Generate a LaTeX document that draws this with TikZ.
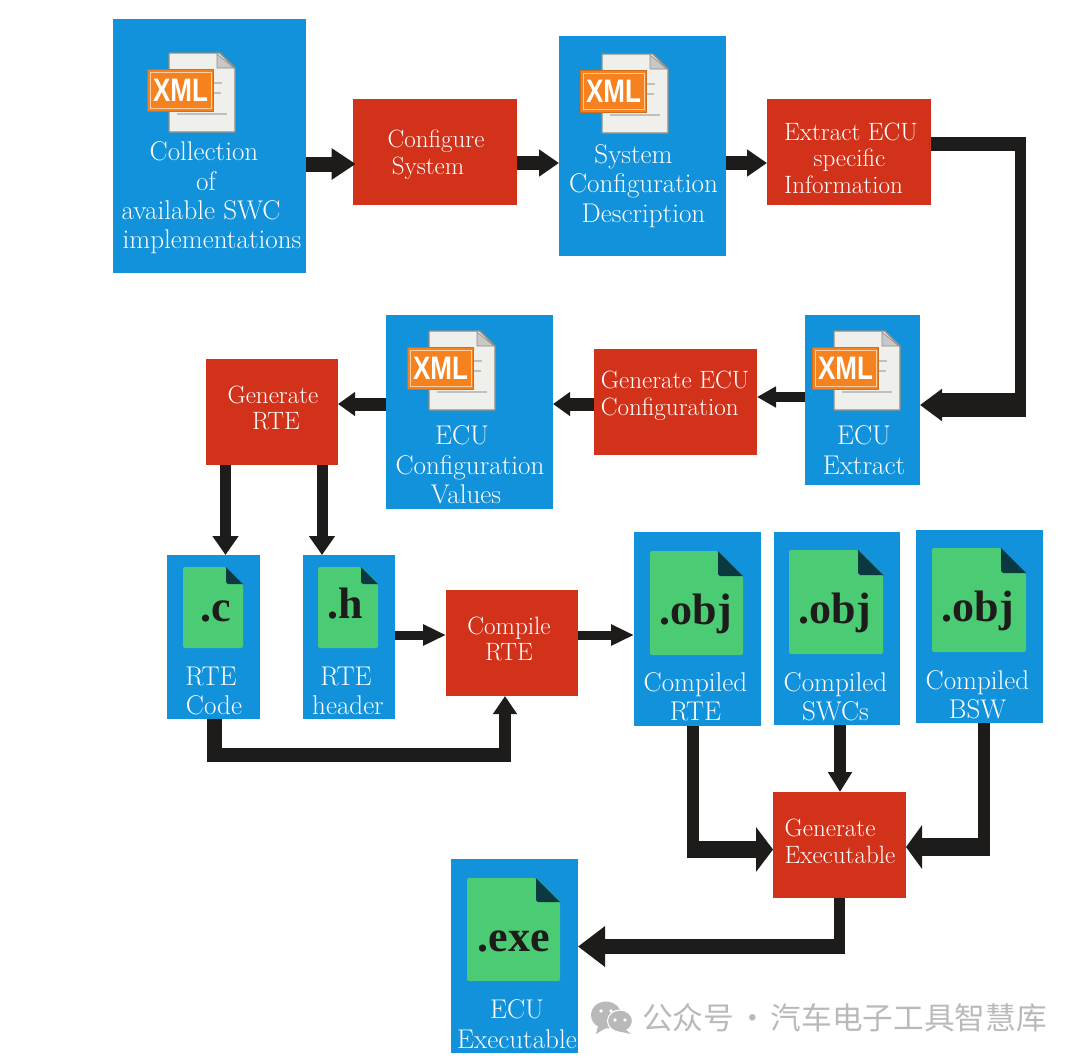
\documentclass[tikz,border=0pt]{standalone}
\usepackage{fontspec}
\usepackage{graphicx}
\usetikzlibrary{arrows.meta,calc}
\newfontfamily\xmlfont{Liberation Sans}
\newfontfamily\filefont{Liberation Serif}
\newfontfamily\cjkfont{Noto Sans CJK SC}
\definecolor{bluebox}{HTML}{1192DB}
\definecolor{redbox}{HTML}{D3321A}
\definecolor{greenfile}{HTML}{4ACB74}
\definecolor{foldfile}{HTML}{0A3A40}
\definecolor{ink}{HTML}{1E1C1A}
\definecolor{xmlorange}{HTML}{F5821F}
\definecolor{xmlpage}{HTML}{EFEFEC}
\definecolor{xmledge}{HTML}{8E8E88}
\definecolor{wmark}{HTML}{B9B9B9}
\tikzset{
  x=0.75pt,y=-0.75pt,
  cell/.style={inner sep=0pt,outer sep=0pt,draw=none},
  bluecell/.style={cell,fill=bluebox},
  redcell/.style={cell,fill=redbox},
  bluetext/.style={text=white,align=center,inner sep=0pt,font=\fontsize{20.3}{22}\selectfont},
  redtext/.style={text=white,align=center,inner sep=0pt,font=\fontsize{18.8}{20}\selectfont},
  filetext/.style={text=ink,inner sep=0pt,anchor=base,font=\filefont\bfseries\fontsize{33}{34}\selectfont},
  conn/.style n args={3}{draw=ink,line width=#1*0.75pt,-{Triangle[length=#2*0.75pt,width=#3*0.75pt]}},
  bar/.style={draw=ink,line width=#1*0.75pt}
}
\newcommand\xmlicon[3]{%
\begin{scope}[shift={(#2,#3)}]
  \draw[xmledge,fill=xmlpage,line width=1.1pt,line join=round] (22,-16) -- (73,-16) -- (88,-1) -- (88,63) -- (22,63) -- cycle;
  \draw[xmledge,fill=black!22,line width=.5pt] (70,-15) -- (70,-1) -- (87,-1) -- cycle;
  \foreach \yy/\xx in {14/75,24/74,45/80}{\draw[black!25,line width=1.5pt] (67,\yy) -- (\xx,\yy);}
  \draw[black!25,line width=1.5pt] (30,45) -- (67,45);
  \node[cell,fill=xmlorange,anchor=north west,minimum width=50.2pt,minimum height=31.5pt,draw=xmlorange!85!black,line width=.7pt] (#1) at (0,0) {};
  \draw[white!60!xmlorange,line width=.35pt] (3,3) rectangle (64,39);
  \node[text=white,inner sep=0pt] at (33.5,21) {\scalebox{1}[1.25]{\xmlfont\bfseries\fontsize{19.5}{20}\selectfont XML}};
\end{scope}}
\newcommand\fileicon[6]{% name x1 y1 x2 y2 fold
\fill[greenfile,rounded corners=1.5pt] (#2,#3) -- (#4-#6,#3) -- (#4,#3+#6) -- (#4,#5) -- (#2,#5) -- cycle;
\fill[foldfile] (#4-#6,#3) -- (#4,#3+#6) -- (#4-#6+2,#3+#6) -- (#4-#6,#3+#6-2) -- cycle;
\coordinate (#1) at (#2,#3);}
\begin{document}
\begin{tikzpicture}
\useasboundingbox (0,0) rectangle (1080,1061);
% cells
\node[bluecell,anchor=north west,minimum width=193*0.75pt,minimum height=254*0.75pt] (coll) at (113,19) {};
\node[redcell,anchor=north west,minimum width=164*0.75pt,minimum height=106*0.75pt] (cfgsys) at (353,99) {};
\node[bluecell,anchor=north west,minimum width=167*0.75pt,minimum height=220*0.75pt] (sysdesc) at (559,36) {};
\node[redcell,anchor=north west,minimum width=164*0.75pt,minimum height=106*0.75pt] (extract) at (767,99) {};
\node[bluecell,anchor=north west,minimum width=115*0.75pt,minimum height=170*0.75pt] (ecuext) at (805,315) {};
\node[redcell,anchor=north west,minimum width=163*0.75pt,minimum height=106*0.75pt] (gencfg) at (594,349) {};
\node[bluecell,anchor=north west,minimum width=167*0.75pt,minimum height=194*0.75pt] (cfgval) at (386,315) {};
\node[redcell,anchor=north west,minimum width=132*0.75pt,minimum height=106*0.75pt] (genrte) at (206,359) {};
\node[bluecell,anchor=north west,minimum width=93*0.75pt,minimum height=164*0.75pt] (rtec) at (167,555) {};
\node[bluecell,anchor=north west,minimum width=92*0.75pt,minimum height=164*0.75pt] (rteh) at (303,555) {};
\node[redcell,anchor=north west,minimum width=132*0.75pt,minimum height=106*0.75pt] (comprte) at (446,590) {};
\node[bluecell,anchor=north west,minimum width=127*0.75pt,minimum height=194*0.75pt] (objrte) at (634,532) {};
\node[bluecell,anchor=north west,minimum width=126*0.75pt,minimum height=193*0.75pt] (objswc) at (774,532) {};
\node[bluecell,anchor=north west,minimum width=127*0.75pt,minimum height=193*0.75pt] (objbsw) at (916,530) {};
\node[redcell,anchor=north west,minimum width=133*0.75pt,minimum height=106*0.75pt] (genexe) at (773,792) {};
\node[bluecell,anchor=north west,minimum width=127*0.75pt,minimum height=194*0.75pt] (ecuexe) at (451,859) {};
% icons
\xmlicon{xmlA}{147}{69}
\xmlicon{xmlB}{580}{70}
\xmlicon{xmlC}{812}{347}
\xmlicon{xmlD}{407}{347}
\fileicon{fc}{183}{567}{243}{648}{17}
\fileicon{fh}{318}{567}{378}{648}{17}
\fileicon{fo1}{650}{551}{743}{655}{25}
\fileicon{fo2}{789}{550}{883}{654}{25}
\fileicon{fo3}{932}{548}{1026}{652}{25}
\fileicon{fe}{467}{878}{560}{981}{24}
\node[filetext] (tc) at (216,621) {.c};
\node[filetext] (th) at (345,618) {.h};
\node[filetext] (to1) at (696,624) {.obj};
\node[filetext] (to2) at (835,623) {.obj};
\node[filetext] (to3) at (978,621) {.obj};
\node[filetext] (te) at (514,951) {.exe};
% labels
\node[bluetext] (lcoll) at (212,198) {\hspace*{-12pt}Collection\\\hspace*{-9pt}of\\\hspace*{-16.5pt}available SWC\\implementations};
\node[redtext] (lcfg) at (436,155) {Configure\\\hspace*{-12pt}System};
\node[bluetext] (ldesc) at (643.5,186) {\hspace*{-15pt}System\\Configuration\\Description};
\node[redtext,align=left] (lext) at (851,158) {Extract ECU\\\hspace*{22pt}specific\\Information};
\node[bluetext] (leext) at (864,450) {ECU\\Extract};
\node[redtext,align=left] (lgcfg) at (675,395.5) {Generate ECU\\Configuration};
\node[bluetext] (lval) at (470,465) {\hspace*{-12pt}ECU\\Configuration\\\hspace*{-6pt}Values};
\node[redtext] (lgrte) at (273,408) {Generate\\\hspace*{4.5pt}RTE};
\node[bluetext] (lcode) at (214,691) {\hspace*{-4.5pt}RTE\\Code};
\node[bluetext] (lhead) at (348,691) {\hspace*{-3pt}RTE\\header};
\node[redtext] (lcomp) at (509,639) {Compile\\RTE};
\node[bluetext] (lorte) at (695.5,697) {Compiled\\RTE};
\node[bluetext] (loswc) at (835.5,696.5) {Compiled\\SWCs};
\node[bluetext] (lobsw) at (977.5,694.5) {Compiled\\BSW};
\node[redtext,align=left] (lgexe) at (840,841) {Generate\\Executable};
\node[bluetext] (leexe) at (517,1024) {ECU\\Executable};
% straight connectors
\draw[conn={15}{24}{30}] (coll.east |- 0,164) -- ([xshift=2pt]cfgsys.west |- 0,164);
\draw[conn={14}{20}{26}] (cfgsys.east |- 0,163) -- (sysdesc.west |- 0,163);
\draw[conn={14}{20}{26}] (sysdesc.east |- 0,163) -- (extract.west |- 0,163);
\draw[conn={10}{19}{20}] (ecuext.west |- 0,397) -- (gencfg.east |- 0,397);
\draw[conn={13}{17}{23}] (gencfg.west |- 0,404) -- (cfgval.east |- 0,404);
\draw[conn={13}{17}{23}] (cfgval.west |- 0,404) -- (genrte.east |- 0,404);
\draw[conn={11}{19}{25}] (genrte.south -| 225.5,0) -- (rtec.north -| 225.5,0);
\draw[conn={11}{19}{25}] (genrte.south -| 322,0) -- (rteh.north -| 322,0);
\draw[conn={9}{23}{20}] (rteh.east |- 0,635) -- (comprte.west |- 0,635);
\draw[conn={9}{23}{20}] (comprte.east |- 0,635) -- (objrte.west |- 0,635);
\draw[conn={12}{20}{23}] (objswc.south -| 840,0) -- (genexe.north -| 840,0);
% elbow connectors
\coordinate (e1) at (1026,144);
\coordinate (e2) at (1020.5,144);
\coordinate (e3) at (1020.5,417);
\coordinate (e4) at (1026,405);
\draw[bar=14] (extract.east |- e1) -- (e1);
\draw[bar=11] (e2 |- 0,137) -- (e3);
\draw[conn={24}{22}{31}] (e4) -- (ecuext.east |- e4);
\coordinate (c1) at (214.5,762);
\coordinate (c2) at (207,755);
\coordinate (c3) at (511,755);
\coordinate (c4) at (505,762);
\draw[bar=15] (rtec.south -| c1) -- (c1);
\draw[bar=14] (c2) -- (c3);
\draw[conn={12}{18}{23}] (c4) -- (comprte.south -| c4);
\coordinate (r1) at (693,858);
\coordinate (r2) at (687,849.5);
\draw[bar=12] (objrte.south -| r1) -- (r1);
\draw[conn={17}{17}{44}] (r2) -- (genexe.west |- r2);
\coordinate (b1) at (984,856);
\coordinate (b2) at (990,847);
\draw[bar=11.5] (objbsw.south -| b1) -- (b1);
\draw[conn={18}{16}{43}] (b2) -- (genexe.east |- b2);
\coordinate (x1) at (839.5,954);
\coordinate (x2) at (845,946.5);
\draw[bar=11] (genexe.south -| x1) -- (x1);
\draw[conn={15}{27}{39}] (x2) -- (ecuexe.east |- x2);
% watermark
\fill[wmark] (606,1015) ellipse (15 and 13.5);
\fill[wmark] (598,1026) -- (596,1034) -- (606,1028) -- cycle;
\fill[wmark,draw=white,line width=.8pt] (620,1021) ellipse (12.5 and 11);
\fill[wmark] (625,1029) -- (631,1034) -- (617,1031) -- cycle;
\foreach \dx/\dy in {601/1011,611/1011,615/1020,625/1020}{\fill[white] (\dx,\dy) circle (1.9);}
\node[text=wmark,inner sep=0pt,anchor=west] (wm) at (642,1018) {\cjkfont\fontsize{23}{24}\selectfont 公众号\hspace{-3pt} · \hspace{-3pt}汽车电子工具智慧库};
\end{tikzpicture}
\end{document}
